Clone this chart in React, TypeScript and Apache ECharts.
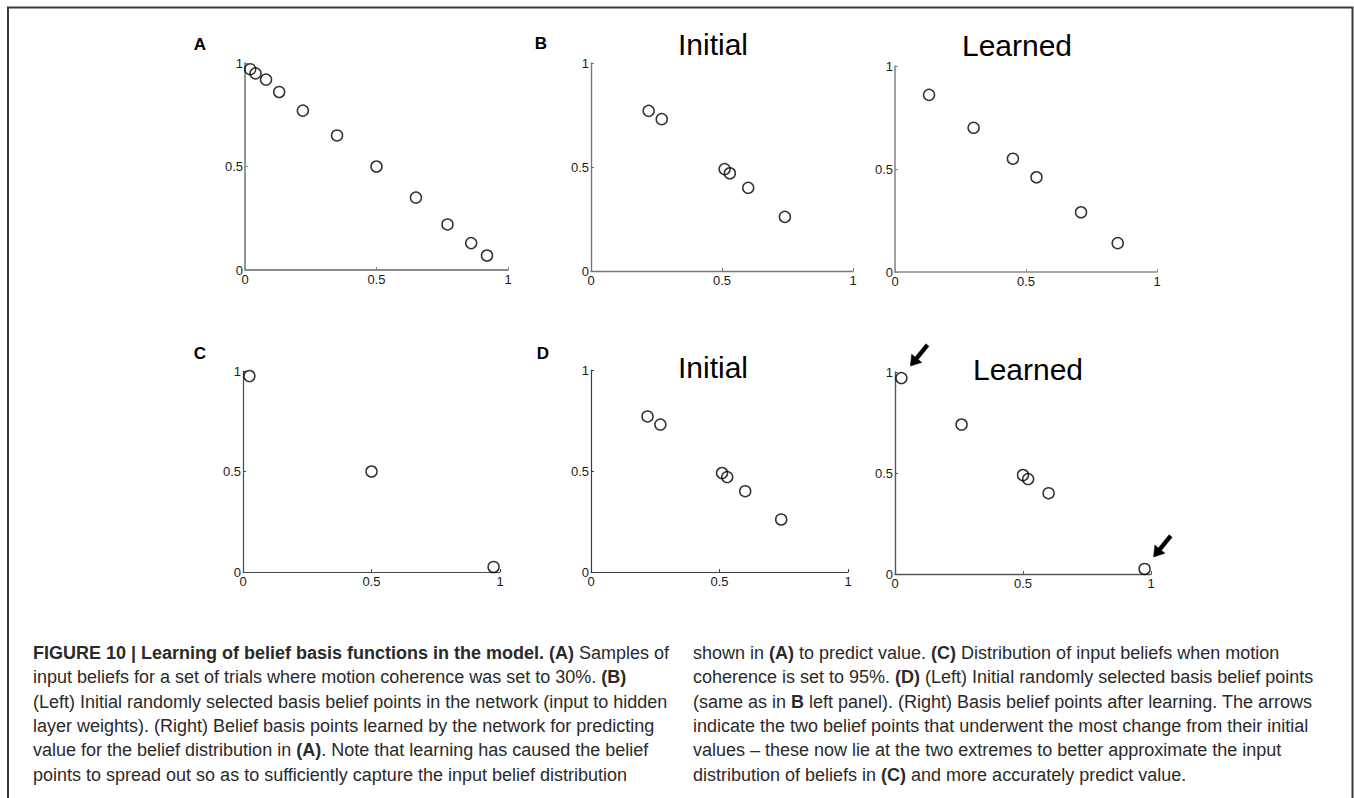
import React, { useEffect, useRef } from "react";
import * as echarts from "echarts";

// ---- data ----
const axisTicks = [0, 0.5, 1];
const samplesA = [
  [0.02, 0.97], [0.04, 0.95], [0.08, 0.92], [0.13, 0.86], [0.22, 0.77], [0.35, 0.65],
  [0.5, 0.5], [0.65, 0.35], [0.77, 0.22], [0.86, 0.13], [0.92, 0.07],
];
const initialBasis = [
  [0.22, 0.77], [0.27, 0.73], [0.51, 0.49], [0.53, 0.47], [0.6, 0.4], [0.74, 0.26],
];
const learnedB = [
  [0.13, 0.86], [0.3, 0.7], [0.45, 0.55], [0.54, 0.46], [0.71, 0.29], [0.85, 0.14],
];
const samplesC = [[0.025, 0.975], [0.5, 0.5], [0.975, 0.025]];
const learnedD = [
  [0.025, 0.97], [0.26, 0.74], [0.5, 0.49], [0.52, 0.47], [0.6, 0.4], [0.975, 0.025],
];
const panelData = [samplesA, initialBasis, learnedB, samplesC, initialBasis, learnedD];
const panelLetters = ["A", "B", "C", "D"];
const panelTitles = ["Initial", "Learned", "Initial", "Learned"];
const arrowTargets = [0, 5]; // indices in learnedD

const captionLeft: [string, boolean][][] = [
  [["FIGURE 10 | Learning of belief basis functions in the model. (A)", true], [" Samples of", false]],
  [["input beliefs for a set of trials where motion coherence was set to 30%. ", false], ["(B)", true]],
  [["(Left) Initial randomly selected basis belief points in the network (input to hidden", false]],
  [["layer weights). (Right) Belief basis points learned by the network for predicting", false]],
  [["value for the belief distribution in ", false], ["(A)", true], [". Note that learning has caused the belief", false]],
  [["points to spread out so as to sufficiently capture the input belief distribution", false]],
];
const captionRight: [string, boolean][][] = [
  [["shown in ", false], ["(A)", true], [" to predict value. ", false], ["(C)", true], [" Distribution of input beliefs when motion", false]],
  [["coherence is set to 95%. ", false], ["(D)", true], [" (Left) Initial randomly selected basis belief points", false]],
  [["(same as in ", false], ["B", true], [" left panel). (Right) Basis belief points after learning. The arrows", false]],
  [["indicate the two belief points that underwent the most change from their initial", false]],
  [["values \u2013 these now lie at the two extremes to better approximate the input", false]],
  [["distribution of beliefs in ", false], ["(C)", true], [" and more accurately predict value.", false]],
];

// ---- layout ----
const grids = [
  { left: 245, top: 63, width: 263, height: 207 },
  { left: 591, top: 63, width: 262, height: 208 },
  { left: 895, top: 66, width: 262, height: 206 },
  { left: 243, top: 371, width: 257, height: 201 },
  { left: 591, top: 370, width: 257, height: 202 },
  { left: 895, top: 372, width: 256, height: 202 },
];
const axisColors = ["#8a8a8a", "#777777", "#8a8a8a", "#4a4a4a", "#3c3c3c", "#555555"];
const axisWidths = [1.8, 1.4, 1.6, 1.2, 1.2, 1.4];
const letterPos = [[200, 44], [541, 43], [200, 353], [543, 353]];
const titlePos = [[713, 44], [1017, 45], [713, 367], [1028, 369]];
const FONT = "'Liberation Sans', Arial, Helvetica, sans-serif";
const CAP_FONT = "'Liberation Sans Narrow', 'Liberation Sans', Arial, sans-serif";

function arrowPoints(tail: number[], tip: number[]) {
  const dx = tip[0] - tail[0];
  const dy = tip[1] - tail[1];
  const len = Math.hypot(dx, dy);
  const ux = dx / len, uy = dy / len;
  const nx = -uy, ny = ux;
  const headLen = 10, headW = 6.5, shaftW = 2;
  const bx = tip[0] - ux * headLen, by = tip[1] - uy * headLen;
  return [
    [tail[0] + nx * shaftW, tail[1] + ny * shaftW],
    [bx + nx * shaftW, by + ny * shaftW],
    [bx + nx * headW, by + ny * headW],
    [tip[0], tip[1]],
    [bx - nx * headW, by - ny * headW],
    [bx - nx * shaftW, by - ny * shaftW],
    [tail[0] - nx * shaftW, tail[1] - ny * shaftW],
  ];
}

function captionText(lines: [string, boolean][][]) {
  return lines
    .map((segs) => segs.map(([t, b]) => `{${b ? "b" : "n"}|${t}}`).join(""))
    .join("\n");
}

export default function App() {
  const ref = useRef<HTMLDivElement>(null);
  useEffect(() => {
    if (!ref.current) return;
    const chart = echarts.init(ref.current, null, { renderer: "svg" });

    const xAxes = grids.map((_, i) => ({
      type: "value",
      gridIndex: i,
      min: 0,
      max: 1,
      interval: 0.5,
      splitLine: { show: false },
      axisLine: { show: true, lineStyle: { color: axisColors[i], width: axisWidths[i] } },
      axisTick: { show: true, inside: true, length: 3, lineStyle: { color: axisColors[i] } },
      axisLabel: {
        margin: 3,
        fontSize: 13,
        color: "#1a1a1a",
        fontFamily: FONT,
        showMinLabel: true,
        showMaxLabel: true,
        customValues: axisTicks,
      },
    }));
    const yAxes = grids.map((_, i) => ({
      type: "value",
      gridIndex: i,
      min: 0,
      max: 1,
      interval: 0.5,
      splitLine: { show: false },
      axisLine: { show: true, lineStyle: { color: axisColors[i], width: axisWidths[i] } },
      axisTick: { show: true, inside: true, length: 3, lineStyle: { color: axisColors[i] } },
      axisLabel: {
        margin: 2,
        fontSize: 13,
        color: "#1a1a1a",
        fontFamily: FONT,
        showMinLabel: true,
        showMaxLabel: true,
      },
    }));

    const series = panelData.map((d, i) => ({
      type: "scatter",
      xAxisIndex: i,
      yAxisIndex: i,
      data: d,
      symbol: "circle",
      symbolSize: 11,
      clip: false,
      itemStyle: { color: "rgba(0,0,0,0)", borderColor: "#000", borderWidth: 1.5 },
      emphasis: { disabled: true },
    }));

    const graphicBase: any[] = [
      {
        type: "rect",
        shape: { x: 8, y: 7.5, width: 1344.5, height: 900 },
        style: { fill: "none", stroke: "#3a3a3a", lineWidth: 2 },
        silent: true,
      },
      ...panelLetters.map((t, i) => ({
        type: "text",
        x: letterPos[i][0],
        y: letterPos[i][1],
        style: {
          text: t,
          font: `bold 17px ${FONT}`,
          fill: "#000",
          align: "center",
          verticalAlign: "middle",
        },
      })),
      ...panelTitles.map((t, i) => ({
        type: "text",
        x: titlePos[i][0],
        y: titlePos[i][1],
        style: {
          text: t,
          font: `30px ${FONT}`,
          fill: "#000",
          align: "center",
          verticalAlign: "middle",
        },
      })),
      ...[captionLeft, captionRight].map((lines, i) => ({
        type: "text",
        x: i === 0 ? 33 : 693,
        y: 641,
        style: {
          text: captionText(lines),
          fill: "#2a2a2a",
          lineHeight: 24.3,
          verticalAlign: "top",
          align: "left",
          rich: {
            n: { fontFamily: CAP_FONT, fontSize: 18, color: "#2a2a2a", lineHeight: 24.3 },
            b: { fontFamily: CAP_FONT, fontSize: 18, fontWeight: "bold", color: "#000", lineHeight: 24.3 },
          },
        },
      })),
    ];

    chart.setOption({
      animation: false,
      backgroundColor: "#fff",
      grid: grids,
      xAxis: xAxes,
      yAxis: yAxes,
      series,
      graphic: graphicBase,
    });

    const arrows = arrowTargets.map((idx) => {
      const p = chart.convertToPixel({ gridIndex: 5 }, learnedD[idx]) as number[];
      const tip = [p[0] + 9, p[1] - 12];
      const tail = [p[0] + 26, p[1] - 33];
      return {
        type: "polygon",
        shape: { points: arrowPoints(tail, tip) },
        style: { fill: "#000", stroke: "#000", lineWidth: 0.5 },
        silent: true,
      };
    });
    chart.setOption({ graphic: [...graphicBase, ...arrows] }, { replaceMerge: ["graphic"] });

    return () => chart.dispose();
  }, []);

  return (
    <div
      ref={ref}
      style={{ position: "absolute", left: 0, top: 0, width: 1354, height: 798, background: "#fff" }}
    />
  );
}
